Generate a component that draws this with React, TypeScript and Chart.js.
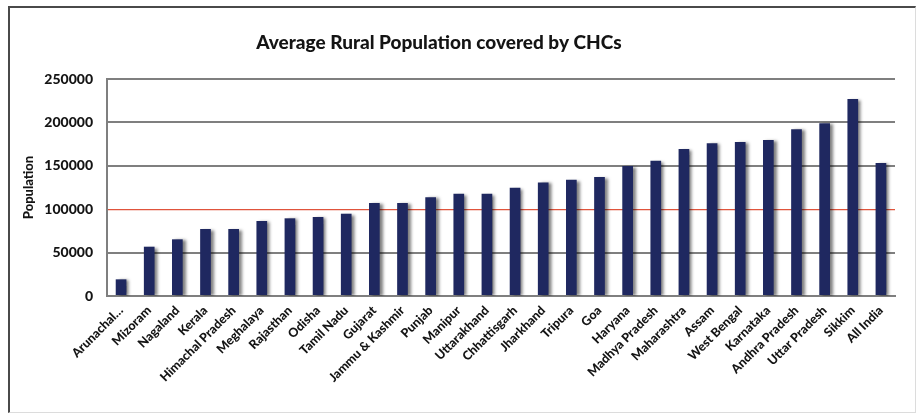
import React, { useEffect, useRef } from "react";
import { Chart, registerables } from "chart.js";

Chart.register(...registerables);

const TITLE = "Average Rural Population covered by CHCs";
const Y_TITLE = "Population";

const states = [
  "Arunachal…", "Mizoram", "Nagaland", "Kerala", "Himachal Pradesh", "Meghalaya",
  "Rajasthan", "Odisha", "Tamil Nadu", "Gujarat", "Jammu & Kashmir", "Punjab",
  "Manipur", "Uttarakhand", "Chhattisgarh", "Jharkhand", "Tripura", "Goa",
  "Haryana", "Madhya Pradesh", "Maharashtra", "Assam", "West Bengal", "Karnataka",
  "Andhra Pradesh", "Uttar Pradesh", "Sikkim", "All India",
];

const population = [
  19200, 56800, 65300, 77200, 77200, 86400,
  89500, 91000, 94800, 107100, 107100, 113700,
  117900, 117900, 124800, 130900, 134000, 137100,
  149800, 155900, 169400, 175900, 177400, 179700,
  192000, 198900, 227000, 153200,
];

const yTicks = [0, 50000, 100000, 150000, 200000, 250000];
const NORM_LINE = 100000;

const FONT = "Lato, 'Open Sans', 'DejaVu Sans', sans-serif";

export default function App() {
  const ref = useRef<HTMLCanvasElement | null>(null);

  useEffect(() => {
    if (!ref.current) return;

    const shadowPlugin = {
      id: "barShadow",
      beforeDatasetsDraw(chart: any) {
        const ctx = chart.ctx;
        ctx.save();
        ctx.shadowColor = "rgba(0,0,0,0.5)";
        ctx.shadowOffsetX = 3;
        ctx.shadowOffsetY = 1;
        ctx.shadowBlur = 3;
      },
      afterDatasetsDraw(chart: any) {
        chart.ctx.restore();
      },
    };

    const titlePlugin = {
      id: "customTitle",
      afterDraw(chart: any) {
        const ctx = chart.ctx;
        ctx.save();
        ctx.font = `900 19px ${FONT}`;
        ctx.fillStyle = "#141414";
        ctx.textAlign = "center";
        ctx.textBaseline = "middle";
        ctx.fillText(TITLE, chart.width * 0.474, 35);
        ctx.restore();
      },
    };

    const chart = new Chart(ref.current, {
      type: "bar",
      data: {
        labels: states,
        datasets: [
          {
            data: population,
            backgroundColor: "#1f2860",
            borderWidth: 0,
            categoryPercentage: 1,
            barPercentage: 0.38,
          },
        ],
      },
      options: {
        responsive: false,
        animation: false,
        layout: { padding: { top: 71, right: 20, left: 0, bottom: 0 } },
        plugins: {
          legend: { display: false },
          title: { display: false },
          tooltip: { enabled: false },
        },
        scales: {
          x: {
            afterFit(scale: any) {
              scale.height = 116;
            },
            grid: { display: false, drawTicks: false },
            border: { display: true, color: "#7f7f7f", width: 2 },
            ticks: {
              autoSkip: false,
              minRotation: 45,
              maxRotation: 45,
              padding: 7,
              color: "#141414",
              font: { family: FONT, size: 12.5, weight: "900" },
            },
          },
          y: {
            min: 0,
            max: 250000,
            afterFit(scale: any) {
              scale.width = 97;
            },
            afterBuildTicks(scale: any) {
              scale.ticks = yTicks.map((v) => ({ value: v }));
            },
            grid: {
              drawTicks: false,
              color: (c: any) => (c.tick && c.tick.value === NORM_LINE ? "#e0543c" : "#7f7f7f"),
              lineWidth: (c: any) => (c.tick && c.tick.value === NORM_LINE ? 1.2 : 2),
            },
            border: { display: true, color: "#7f7f7f", width: 2 },
            title: {
              display: true,
              text: Y_TITLE,
              color: "#141414",
              font: { family: FONT, size: 13, weight: "900" },
              padding: { top: 11, bottom: 0 },
            },
            ticks: {
              padding: 14,
              color: "#141414",
              font: { family: FONT, size: 14, weight: "900" },
              callback: (v: any) => String(v),
            },
          },
        },
      },
      plugins: [shadowPlugin, titlePlugin],
    });

    return () => chart.destroy();
  }, []);

  return (
    <div
      style={{
        position: "absolute",
        left: 8,
        top: 6,
        width: 905,
        height: 404,
        borderTop: "2px solid #4a4a4a",
        borderLeft: "2px solid #4a4a4a",
        borderRight: "1px solid #dcdcdc",
        borderBottom: "1px solid #dcdcdc",
        background: "#fff",
      }}
    >
      <canvas ref={ref} width={905} height={404} style={{ display: "block" }} />
    </div>
  );
}
